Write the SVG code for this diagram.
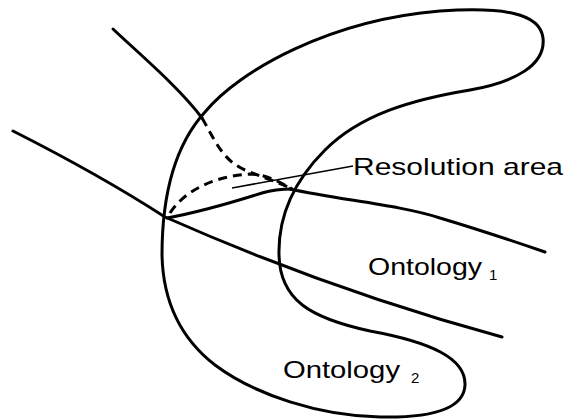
<svg xmlns="http://www.w3.org/2000/svg" width="567" height="419" viewBox="0 0 567 419">
<style>
.ln{fill:none;stroke:#000;stroke-width:3;stroke-linecap:round;stroke-linejoin:round}
.ds{fill:none;stroke:#000;stroke-width:3;stroke-dasharray:9 6}
.ptr{fill:none;stroke:#000;stroke-width:1.5}
.t{font-family:"Liberation Sans",Arial,sans-serif;font-size:24px;fill:#000}
.s{font-family:"Liberation Sans",Arial,sans-serif;font-size:15px;fill:#000}
</style>
<rect width="567" height="419" fill="#fff"/>
<g id="ontology2">
<path class="ln" d="M 162,255 C 162,195 175,145 205,112 C 240,70 330,20 440,11 C 500,7 540,12 543,38 C 546,65 515,82 470,90 C 410,100 360,115 325,150 C 295,180 278,215 279,255 C 280,300 310,318 370,331 C 430,342 466,358 465,385 C 464,410 430,418 380,417 C 320,416 255,395 215,365 C 180,338 163,300 162,255 Z"/>
</g>
<g id="ontology1">
<path class="ln" d="M 113,29 C 135,50 180,88 202,118"/>
<path class="ln" d="M 290,189 C 340,200 400,205 440,218 C 480,230 510,240 545,252"/>
</g>
<g id="line2">
<path class="ln" d="M 13,131 Q 100,175 165,217 Q 330,290 502,337"/>
</g>
<g id="resolution">
<path class="ds" d="M 202,118 C 215,140 222,160 245,170 C 262,177 280,183 292,189"/>
<path class="ds" d="M 170,213 C 185,190 215,176 250,174 C 265,174 280,182 292,189"/>
<path class="ln" d="M 167,218 C 200,212 240,200 262,193 C 272,190 282,189 292,189"/>
</g>
<g id="connectors">
<line class="ptr" x1="232" y1="188" x2="353" y2="166"/>
</g>
<g id="labels">
<text class="t" x="353" y="175" textLength="210" lengthAdjust="spacingAndGlyphs">Resolution area</text>
<text class="t" x="368" y="275" textLength="114" lengthAdjust="spacingAndGlyphs">Ontology</text>
<text class="s" x="489" y="280">1</text>
<text class="t" x="283" y="378" textLength="117" lengthAdjust="spacingAndGlyphs">Ontology</text>
<text class="s" x="411" y="383">2</text>
</g>
</svg>
